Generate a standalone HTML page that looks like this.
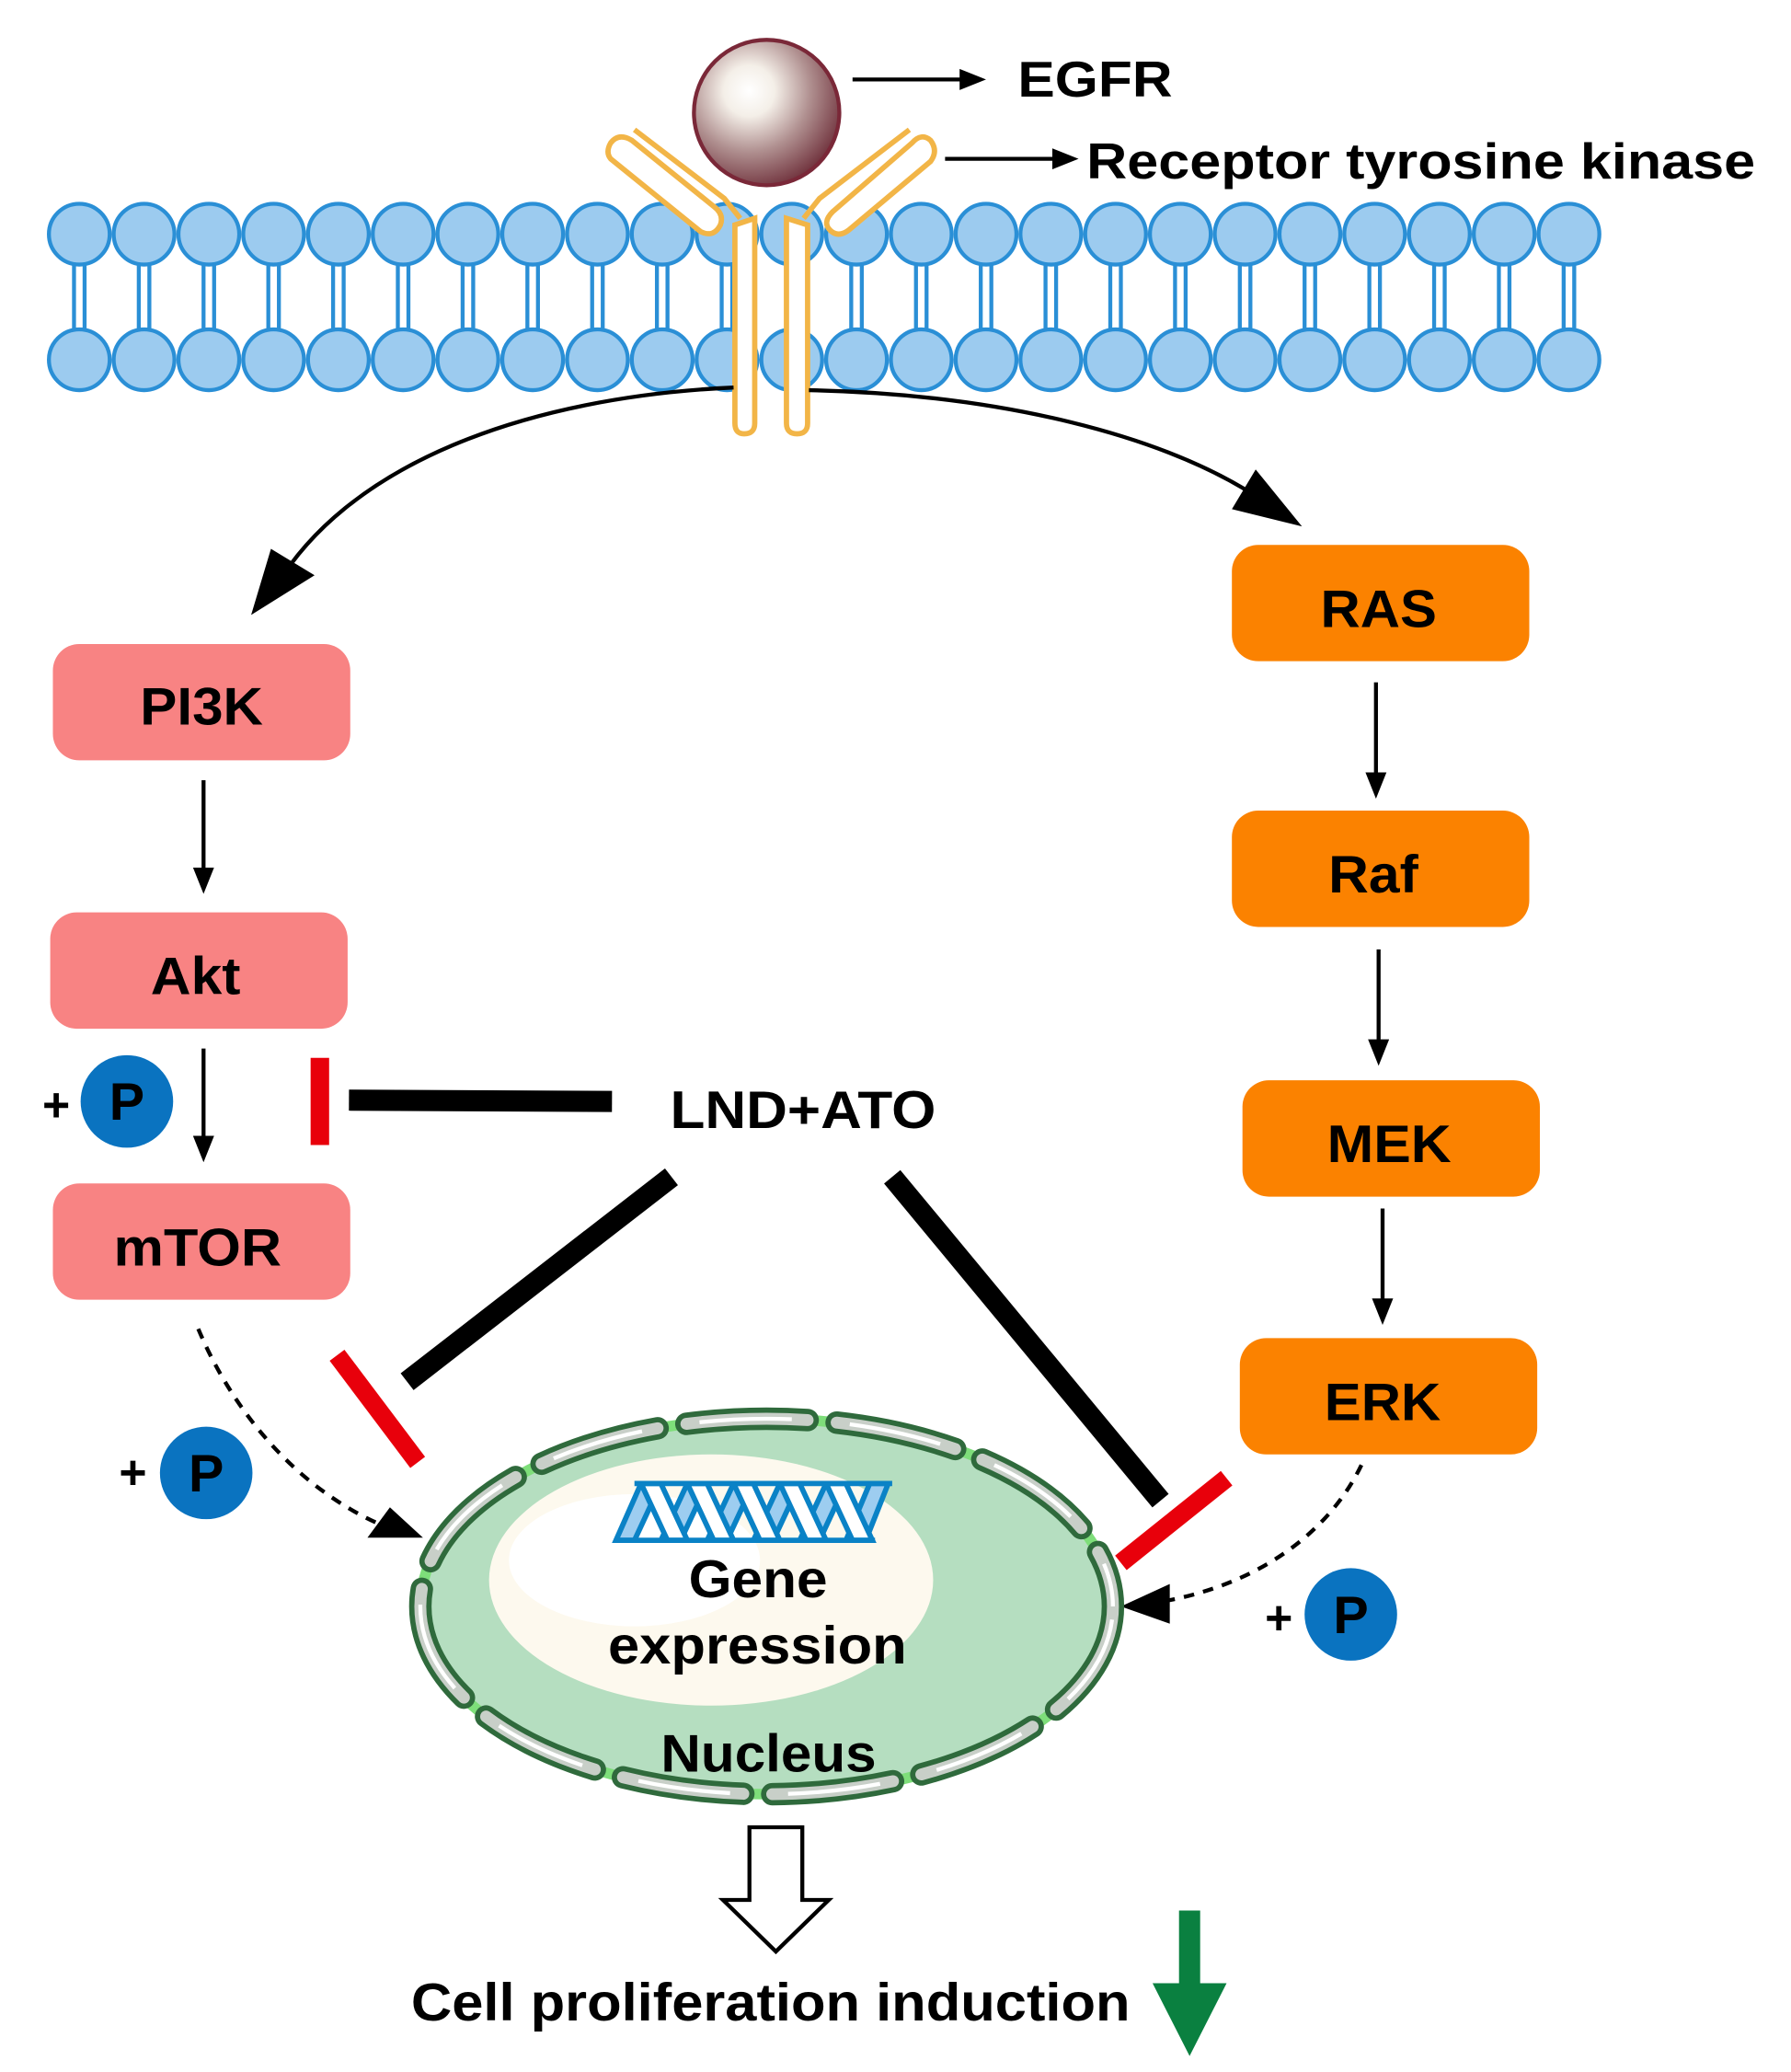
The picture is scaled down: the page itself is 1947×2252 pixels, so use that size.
<!DOCTYPE html>
<html><head><meta charset="utf-8"><style>
html,body{margin:0;padding:0;background:#fff}
svg{display:block}
text{font-family:"Liberation Sans",Arial,sans-serif;font-weight:bold}
</style></head><body>
<svg width="1947" height="2252" viewBox="0 0 1355 1567" xmlns="http://www.w3.org/2000/svg">
<defs>
<marker id="ah" markerWidth="20" markerHeight="16" refX="16" refY="8" orient="auto" markerUnits="userSpaceOnUse" viewBox="0 0 20 16"><path d="M0,0 L20,8 L0,16 z" fill="#000"/></marker>
<radialGradient id="ball" cx="0.38" cy="0.35" r="0.7"><stop offset="0" stop-color="#fff"/><stop offset="0.25" stop-color="#f4efe8"/><stop offset="0.6" stop-color="#b09090"/><stop offset="1" stop-color="#6e2f3a"/></radialGradient>
<g id="lip">
<line x1="-4" y1="177" x2="-4" y2="272" stroke="#2a8fd6" stroke-width="3"/>
<line x1="4" y1="177" x2="4" y2="272" stroke="#2a8fd6" stroke-width="3"/>
<circle cx="0" cy="177" r="23" fill="#9ccbef" stroke="#2a8fd6" stroke-width="3"/>
<circle cx="0" cy="272" r="23" fill="#9ccbef" stroke="#2a8fd6" stroke-width="3"/>
</g>
</defs>
<use href="#lip" x="60"/><use href="#lip" x="109"/><use href="#lip" x="158"/><use href="#lip" x="207"/><use href="#lip" x="256"/><use href="#lip" x="305"/><use href="#lip" x="354"/><use href="#lip" x="403"/><use href="#lip" x="452"/><use href="#lip" x="501"/><use href="#lip" x="550"/><use href="#lip" x="599"/><use href="#lip" x="648"/><use href="#lip" x="697"/><use href="#lip" x="746"/><use href="#lip" x="795"/><use href="#lip" x="844"/><use href="#lip" x="893"/><use href="#lip" x="942"/><use href="#lip" x="991"/><use href="#lip" x="1040"/><use href="#lip" x="1089"/><use href="#lip" x="1138"/><use href="#lip" x="1187"/>
<g fill="none" stroke="#f2b547" stroke-width="4">
<path d="M556,170 L556,320 Q556,328 563,328 Q571,328 571,320 L571,165 Z" fill="#fff"/>
<path d="M595,165 L595,320 Q595,328 603,328 Q611,328 611,320 L611,170 Z" fill="#fff"/>
<path d="M462,120 L530,175 Q540,180 545,170 Q548,162 540,156 L478,106 Q468,100 462,108 Q458,115 462,120 Z" fill="#fff"/>
<path d="M690,108 L630,160 Q622,168 628,174 Q634,180 642,174 L704,122 Q710,114 704,106 Q697,100 690,108 Z" fill="#fff"/>
<path d="M480,98 L548,150 L560,165" />
<path d="M688,98 L620,150 L608,165"/>
</g>
<circle cx="580" cy="85" r="55" fill="url(#ball)" stroke="#7a2838" stroke-width="3"/>
<line x1="645" y1="60" x2="742" y2="60" stroke="#000" stroke-width="3" marker-end="url(#ah)"/>
<text x="770" y="73" font-size="38" textLength="117" lengthAdjust="spacingAndGlyphs">EGFR</text>
<line x1="715" y1="120" x2="812" y2="120" stroke="#000" stroke-width="3" marker-end="url(#ah)"/>
<text x="822" y="135" font-size="38" textLength="506" lengthAdjust="spacingAndGlyphs">Receptor tyrosine kinase</text>
<path d="M555,293 C400,300 260,350 205,450" fill="none" stroke="#000" stroke-width="3"/>
<path d="M190,465 L205,415 L238,435 Z" fill="#000"/>
<path d="M612,295 C760,298 880,330 950,375" fill="none" stroke="#000" stroke-width="3"/>
<path d="M985,398 L932,385 L950,355 Z" fill="#000"/>
<rect x="40" y="487" width="225" height="88" rx="20" fill="#f88383"/>
<text x="106" y="548" font-size="40" textLength="93" lengthAdjust="spacingAndGlyphs">PI3K</text>
<rect x="38" y="690" width="225" height="88" rx="20" fill="#f88383"/>
<text x="114" y="752" font-size="40" textLength="68" lengthAdjust="spacingAndGlyphs">Akt</text>
<rect x="40" y="895" width="225" height="88" rx="20" fill="#f88383"/>
<text x="86" y="957" font-size="40" textLength="127" lengthAdjust="spacingAndGlyphs">mTOR</text>
<line x1="154" y1="590" x2="154" y2="672" stroke="#000" stroke-width="3" marker-end="url(#ah)"/>
<line x1="154" y1="793" x2="154" y2="875" stroke="#000" stroke-width="3" marker-end="url(#ah)"/>
<rect x="932" y="412" width="225" height="88" rx="20" fill="#fb8200"/>
<text x="999" y="474" font-size="40" textLength="88" lengthAdjust="spacingAndGlyphs">RAS</text>
<rect x="932" y="613" width="225" height="88" rx="20" fill="#fb8200"/>
<text x="1005" y="675" font-size="40" textLength="68" lengthAdjust="spacingAndGlyphs">Raf</text>
<rect x="940" y="817" width="225" height="88" rx="20" fill="#fb8200"/>
<text x="1004" y="879" font-size="40" textLength="94" lengthAdjust="spacingAndGlyphs">MEK</text>
<rect x="938" y="1012" width="225" height="88" rx="20" fill="#fb8200"/>
<text x="1002" y="1074" font-size="40" textLength="88" lengthAdjust="spacingAndGlyphs">ERK</text>
<line x1="1041" y1="516" x2="1041" y2="600" stroke="#000" stroke-width="3" marker-end="url(#ah)"/>
<line x1="1043" y1="718" x2="1043" y2="802" stroke="#000" stroke-width="3" marker-end="url(#ah)"/>
<line x1="1046" y1="914" x2="1046" y2="998" stroke="#000" stroke-width="3" marker-end="url(#ah)"/>
<g font-size="36">
<text x="32" y="848">+</text><circle cx="96" cy="833" r="35" fill="#0a73c0"/><text x="96" y="847" text-anchor="middle" font-size="40">P</text>
<text x="90" y="1126">+</text><circle cx="156" cy="1114" r="35" fill="#0a73c0"/><text x="156" y="1128" text-anchor="middle" font-size="40">P</text>
<text x="957" y="1236">+</text><circle cx="1022" cy="1221" r="35" fill="#0a73c0"/><text x="1022" y="1235" text-anchor="middle" font-size="40">P</text>
</g>
<text x="507" y="853" font-size="40" textLength="201" lengthAdjust="spacingAndGlyphs">LND+ATO</text>
<line x1="264" y1="832" x2="463" y2="833" stroke="#000" stroke-width="16"/>
<line x1="242" y1="800" x2="242" y2="866" stroke="#e8000b" stroke-width="14"/>
<line x1="508" y1="890" x2="308" y2="1045" stroke="#000" stroke-width="16"/>
<line x1="255" y1="1025" x2="316" y2="1106" stroke="#e8000b" stroke-width="14"/>
<line x1="675" y1="890" x2="878" y2="1135" stroke="#000" stroke-width="16"/>
<line x1="928" y1="1118" x2="848" y2="1182" stroke="#e8000b" stroke-width="14"/>
<path d="M150,1005 C175,1065 225,1130 300,1158" fill="none" stroke="#000" stroke-width="3" stroke-dasharray="8,7"/>
<path d="M320,1163 L278,1163 L295,1140 Z" fill="#000"/>
<path d="M1030,1108 C1005,1160 950,1200 875,1212" fill="none" stroke="#000" stroke-width="3" stroke-dasharray="8,7"/>
<path d="M848,1215 L885,1198 L885,1228 Z" fill="#000"/>
<ellipse cx="580" cy="1215" rx="262" ry="142" fill="#b5dec0" stroke="#7ede7a" stroke-width="8"/>
<ellipse cx="538" cy="1195" rx="168" ry="95" fill="#fdf9ee"/>
<ellipse cx="480" cy="1180" rx="95" ry="50" fill="#fff"/>
<ellipse cx="580" cy="1215" rx="262" ry="142" fill="none" stroke="#2f6a3c" stroke-width="17" stroke-dasharray="92,22" stroke-linecap="round"/>
<ellipse cx="580" cy="1215" rx="262" ry="142" fill="none" stroke="#c8cfc8" stroke-width="9" stroke-dasharray="92,22" stroke-linecap="round"/>
<ellipse cx="580" cy="1215" rx="262" ry="142" fill="none" stroke="#fff" stroke-width="3" stroke-dasharray="70,44" stroke-dashoffset="-10"/>
<g stroke="#0a82c6" stroke-width="4" fill="#9dcdf0">
<path d="M466,1165 L485,1122 L500,1122 L480,1165 Z"/>
<path d="M500,1165 L520,1122 L535,1122 L515,1165 Z"/>
<path d="M535,1165 L555,1122 L570,1122 L550,1165 Z"/>
<path d="M570,1165 L590,1122 L605,1122 L585,1165 Z"/>
<path d="M605,1165 L625,1122 L640,1122 L620,1165 Z"/>
<path d="M640,1165 L658,1122 L672,1122 L655,1165 Z"/>
</g>
<g stroke="#0a82c6" stroke-width="4" fill="#fff">
<path d="M485,1122 L505,1165 L520,1165 L500,1122 Z"/>
<path d="M520,1122 L540,1165 L555,1165 L535,1122 Z"/>
<path d="M555,1122 L575,1165 L590,1165 L570,1122 Z"/>
<path d="M590,1122 L610,1165 L625,1165 L605,1122 Z"/>
<path d="M625,1122 L645,1165 L660,1165 L640,1122 Z"/>
</g>
<line x1="466" y1="1165" x2="662" y2="1165" stroke="#0a82c6" stroke-width="4"/>
<line x1="480" y1="1122" x2="675" y2="1122" stroke="#0a82c6" stroke-width="4"/>
<text x="521" y="1208" font-size="40" textLength="105" lengthAdjust="spacingAndGlyphs">Gene</text>
<text x="460" y="1258" font-size="40" textLength="226" lengthAdjust="spacingAndGlyphs">expression</text>
<text x="500" y="1340" font-size="40" textLength="163" lengthAdjust="spacingAndGlyphs">Nucleus</text>
<path d="M567,1382 L607,1382 L607,1437 L627,1437 L587,1476 L547,1437 L567,1437 Z" fill="#fff" stroke="#000" stroke-width="3"/>
<text x="311" y="1528" font-size="40" textLength="544" lengthAdjust="spacingAndGlyphs">Cell proliferation induction</text>
<path d="M892,1445 L908,1445 L908,1500 L928,1500 L900,1555 L872,1500 L892,1500 Z" fill="#0a8040"/>
</svg>
</body></html>
